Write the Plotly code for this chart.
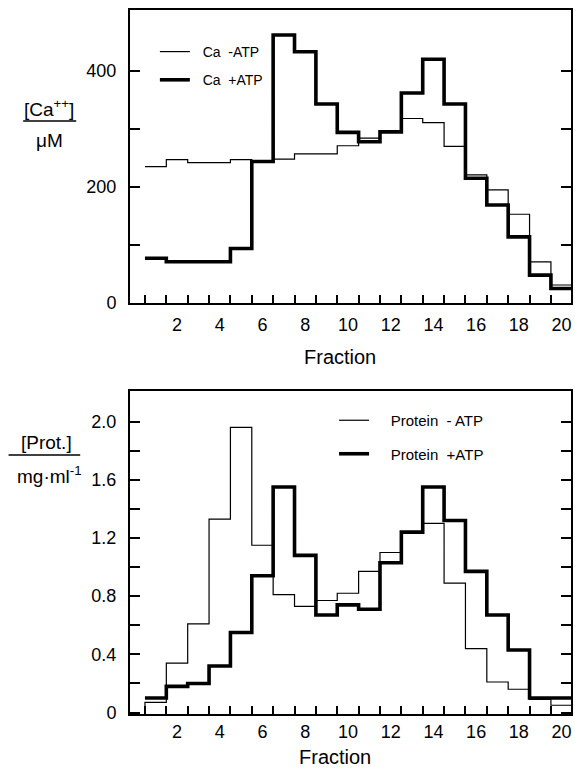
import plotly.graph_objects as go

# ---------------- data ----------------
fractions = list(range(1, 21))
ca_minus_atp = [235, 247, 242, 242, 247, 243, 248, 257, 257, 271,
                284, 295, 318, 311, 270, 221, 195, 153, 71, 31]
ca_plus_atp = [77, 71, 71, 71, 94, 244, 462, 433, 343, 294,
               278, 295, 362, 420, 343, 215, 169, 114, 48, 25]
prot_minus_atp = [0.07, 0.34, 0.61, 1.33, 1.96, 1.15, 0.81, 0.73, 0.77, 0.82,
                  0.97, 1.10, 1.24, 1.30, 0.89, 0.44, 0.21, 0.16, 0.09, 0.05]
prot_plus_atp = [0.10, 0.18, 0.20, 0.32, 0.55, 0.94, 1.55, 1.08, 0.67, 0.74,
                 0.71, 1.03, 1.24, 1.55, 1.32, 0.97, 0.67, 0.43, 0.10, 0.10]
x_tick_labels = [2, 4, 6, 8, 10, 12, 14, 16, 18, 20]
ca_ticks = [0, 100, 200, 300, 400]
ca_tick_text = ["0", "", "200", "", "400"]
prot_ticks = [0, 0.2, 0.4, 0.6, 0.8, 1.0, 1.2, 1.4, 1.6, 1.8, 2.0]
prot_tick_text = ["0", "", "0.4", "", "0.8", "", "1.2", "", "1.6", "", "2.0"]

# bin edges (fractions are centred on integers)
edges = [f - 0.5 for f in fractions] + [fractions[-1] + 0.5]

W, H = 575, 769
L, R, T, B = 130, 2, 10, 55
PW, PH = W - L - R, H - T - B


def px(x):  # page pixel -> paper x
    return (x - L) / PW


def py(y):  # page pixel -> paper y
    return (H - B - y) / PH


FONT = "Liberation Sans, Arial, sans-serif"
NB = "\u00a0"
fig = go.Figure()


def step(xs, ys, width, name, xa, ya, legend, group, start_at_zero=False):
    xx = list(xs)
    yy = list(ys) + [ys[-1]]
    if start_at_zero:
        xx = [xs[0]] + xx
        yy = [0] + yy
    fig.add_trace(go.Scatter(x=xx, y=yy, mode="lines", line_shape="hv",
                             line=dict(color="black", width=width),
                             name=name, xaxis=xa, yaxis=ya, legend=legend,
                             legendgroup=group, hoverinfo="skip"))


step(edges, ca_minus_atp, 1.2, NB * 2 + "Ca  -ATP", "x", "y", "legend", "a")
step(edges, ca_plus_atp, 3.6, NB * 2 + "Ca  +ATP", "x", "y", "legend", "b")
step(edges, prot_minus_atp, 1.2, NB * 4 + "Protein  - ATP", "x2", "y2", "legend2", "c", True)
step(edges, prot_plus_atp, 3.6, NB * 4 + "Protein  +ATP", "x2", "y2", "legend2", "d")

xr = [-0.2, 20.44]
tickfont = dict(family=FONT, size=18, color="black")
common_x = dict(range=xr, showline=True, linewidth=2, linecolor="black", mirror=True,
                tickmode="array", tickvals=x_tick_labels, ticks="", showgrid=False,
                zeroline=False, tickfont=tickfont,
                minor=dict(tickmode="array", tickvals=edges[:-1], ticks="inside",
                           ticklen=8, tickwidth=1.5, tickcolor="black", showgrid=False))
top_ticks = dict(range=xr, showline=False, side="top", tickmode="array",
                 tickvals=edges[:-1], ticktext=[""] * 20, ticks="inside", ticklen=8,
                 tickwidth=1.5, tickcolor="black", showgrid=False, zeroline=False,
                 showticklabels=False)
common_y = dict(showline=True, linewidth=2, linecolor="black", mirror="ticks",
                ticks="inside", ticklen=10, tickwidth=1.5, tickcolor="black",
                showgrid=False, zeroline=False, tickfont=tickfont,
                ticklabelstandoff=8, tickmode="array")

top_dom = [py(303), 1.0]
bot_dom = [0.0, py(391)]

fig.update_layout(
    width=W, height=H, margin=dict(l=L, r=R, t=T, b=B),
    paper_bgcolor="white", plot_bgcolor="white",
    xaxis=dict(common_x, domain=[0, 1], anchor="y", ticklabelstandoff=4),
    yaxis=dict(common_y, domain=top_dom, anchor="x", range=[0, 505],
               tickvals=ca_ticks, ticktext=ca_tick_text),
    xaxis2=dict(common_x, domain=[0, 1], anchor="y2", ticklabelstandoff=0),
    yaxis2=dict(common_y, domain=bot_dom, anchor="x2", range=[-0.01, 2.21],
                tickvals=prot_ticks, ticktext=prot_tick_text),
    xaxis3=dict(top_ticks, overlaying="x", anchor="y"),
    xaxis4=dict(top_ticks, overlaying="x2", anchor="y2"),
    legend=dict(x=px(155), y=py(36), xanchor="left", yanchor="top",
                font=dict(family=FONT, size=14, color="black"),
                bgcolor="rgba(0,0,0,0)", itemwidth=30, tracegroupgap=7,
                traceorder="grouped"),
    legend2=dict(x=px(335), y=py(404), xanchor="left", yanchor="top",
                 font=dict(family=FONT, size=15, color="black"),
                 bgcolor="rgba(0,0,0,0)", itemwidth=30, tracegroupgap=11,
                 traceorder="grouped"),
    showlegend=True,
    hovermode=False,
)

ann_font = dict(family=FONT, size=19, color="black")


def ann(text, x, y, font=ann_font):
    return dict(text=text, x=px(x), y=py(y), xref="paper", yref="paper",
                xanchor="center", yanchor="middle", showarrow=False, font=font)


title_font = dict(family=FONT, size=20, color="black")
annotations = [
    ann("Fraction", 341, 357, title_font),
    ann("Fraction", 336, 757, title_font),
    ann("[Ca<sup>++</sup>]", 49, 108),
    ann("μM", 49, 140),
    ann("[Prot.]", 46, 443),
    ann("mg·ml<sup>-1</sup>", 49, 475),
]
fig.update_layout(annotations=annotations)

shapes = [
    dict(type="line", xref="paper", yref="paper", x0=px(22.7), x1=px(76),
         y0=py(121), y1=py(121), line=dict(color="black", width=1.5)),
    dict(type="line", xref="paper", yref="paper", x0=px(8), x1=px(80),
         y0=py(455), y1=py(455), line=dict(color="black", width=1.5)),
]
fig.update_layout(shapes=shapes)

fig.write_html("out.html", config={"displayModeBar": False},
               post_script="document.body.style.margin='0px';document.body.style.overflow='hidden';")
